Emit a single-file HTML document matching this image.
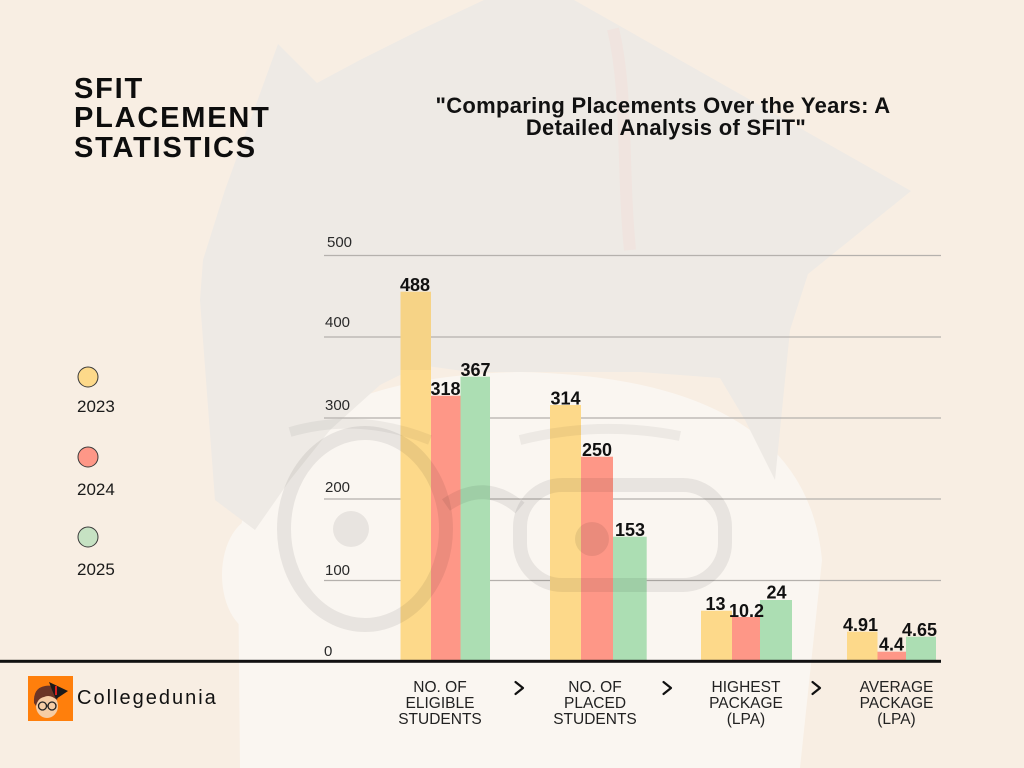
<!DOCTYPE html>
<html>
<head>
<meta charset="utf-8">
<style>
  html, body { margin: 0; padding: 0; background: #f8eee3; width: 1024px; height: 768px; overflow: hidden; }
  svg { display: block; }
  text { font-family: "Liberation Sans", Arial, sans-serif; }
</style>
</head>
<body>
<svg width="1024" height="768" viewBox="0 0 1024 768" xmlns="http://www.w3.org/2000/svg">
  <!-- background -->
  <rect x="0" y="0" width="1024" height="768" fill="#f8eee3"/>

  <!-- watermark: face (lighter) -->
  <path d="M240 768 L238 560 Q 240 378 520 372 Q 805 378 822 560 L 800 768 Z" fill="#faf6f1"/>
  <ellipse cx="258" cy="575" rx="36" ry="58" fill="#faf6f1"/>
  <!-- watermark: hair + hat -->
  <polygon fill="#eeeae5" points="200,300 203,260 225,190 278,44 317,83 360,60 420,30 484,0 574,0 911,191 808,274 790,330 775,480 745,420 720,378 640,372 560,372 470,372 420,365 380,385 330,430 290,480 255,530 215,500"/>
  <!-- faint tassel -->
  <path d="M613 29 C 628 90, 622 170, 630 250" stroke="#f2e0da" stroke-width="12" fill="none" opacity="0.6"/>

  <!-- gridlines -->
  <g stroke="#b5b1ad" stroke-width="1.2">
    <line x1="324" y1="255.5" x2="941" y2="255.5"/>
    <line x1="324" y1="337" x2="941" y2="337"/>
    <line x1="324" y1="418" x2="941" y2="418"/>
    <line x1="324" y1="499" x2="941" y2="499"/>
    <line x1="324" y1="580.5" x2="941" y2="580.5"/>
  </g>

  <!-- bars -->
  <g>
    <rect x="400.5" y="291.7" width="30.5" height="369" fill="#fdd98a"/>
    <rect x="431" y="395.7" width="29.5" height="265" fill="#fe9787"/>
    <rect x="460.5" y="376.7" width="29.5" height="284" fill="#acdeb3"/>

    <rect x="550" y="405" width="31" height="256" fill="#fdd98a"/>
    <rect x="581" y="456.7" width="32" height="204" fill="#fe9787"/>
    <rect x="613" y="536.7" width="33.7" height="124" fill="#acdeb3"/>

    <rect x="701" y="610.7" width="31" height="50" fill="#fdd98a"/>
    <rect x="732" y="617" width="28" height="44" fill="#fe9787"/>
    <rect x="760" y="600" width="32" height="61" fill="#acdeb3"/>

    <rect x="847" y="631.7" width="30.5" height="29" fill="#fdd98a"/>
    <rect x="877.5" y="651.7" width="28.5" height="9" fill="#fe9787"/>
    <rect x="906" y="636.7" width="30" height="24" fill="#acdeb3"/>
  </g>

  <!-- hair overlay on top of first bar -->
  <polygon fill="#8a7050" opacity="0.06" points="400.5,291.7 431,291.7 431,370 400.5,370"/>

  <!-- watermark: glasses overlay -->
  <g fill="none" stroke="#000" stroke-opacity="0.07" stroke-width="14">
    <ellipse cx="365" cy="529" rx="81" ry="96"/>
    <rect x="520" y="485" width="205" height="100" rx="42"/>
    <path d="M446 505 Q 485 478 520 508"/>
  </g>
  <g fill="none" stroke="#000" stroke-opacity="0.05" stroke-width="10">
    <path d="M290 432 Q 360 412 430 440"/>
    <path d="M520 440 Q 600 420 680 436"/>
  </g>
  <circle cx="351" cy="529" r="18" fill="#000" fill-opacity="0.07"/>
  <circle cx="592" cy="539" r="17" fill="#000" fill-opacity="0.08"/>

  <!-- axis line -->
  <rect x="0" y="659.8" width="941" height="3" fill="#111"/>

  <!-- tick labels -->
  <g font-size="15" fill="#2a2a2a">
    <text x="327" y="247">500</text>
    <text x="325" y="327">400</text>
    <text x="325" y="410">300</text>
    <text x="325" y="492">200</text>
    <text x="325" y="575">100</text>
    <text x="324" y="656">0</text>
  </g>

  <!-- value labels -->
  <g font-size="18" font-weight="bold" fill="#111" text-anchor="middle">
    <text x="415" y="291">488</text>
    <text x="445.5" y="395">318</text>
    <text x="475.5" y="376">367</text>
    <text x="565.5" y="404.5">314</text>
    <text x="597" y="456">250</text>
    <text x="630" y="536">153</text>
    <text x="715.5" y="610">13</text>
    <text x="746.5" y="617">10.2</text>
    <text x="776.5" y="598.5">24</text>
    <text x="860.5" y="631">4.91</text>
    <text x="891.5" y="650.5">4.4</text>
    <text x="919.5" y="636">4.65</text>
  </g>

  <!-- category labels -->
  <g font-size="15.5" fill="#222" text-anchor="middle">
    <text x="440" y="692">NO. OF</text>
    <text x="440" y="708">ELIGIBLE</text>
    <text x="440" y="724">STUDENTS</text>
    <text x="595" y="692">NO. OF</text>
    <text x="595" y="708">PLACED</text>
    <text x="595" y="724">STUDENTS</text>
    <text x="746" y="692">HIGHEST</text>
    <text x="746" y="708">PACKAGE</text>
    <text x="746" y="724">(LPA)</text>
    <text x="896.5" y="692">AVERAGE</text>
    <text x="896.5" y="708">PACKAGE</text>
    <text x="896.5" y="724">(LPA)</text>
  </g>

  <!-- chevrons -->
  <g fill="none" stroke="#111" stroke-width="2.2" stroke-linecap="round" stroke-linejoin="round">
    <polyline points="515.5,682 523,688 515.5,694"/>
    <polyline points="663.5,682 671,688 663.5,694"/>
    <polyline points="812.5,682 820,688 812.5,694"/>
  </g>

  <!-- title -->
  <g font-size="29" font-weight="bold" fill="#0d0d0d" letter-spacing="1.8">
    <text x="74" y="98">SFIT</text>
    <text x="74" y="127">PLACEMENT</text>
    <text x="74" y="157">STATISTICS</text>
  </g>

  <!-- subtitle -->
  <g font-size="22" font-weight="bold" fill="#111" text-anchor="middle" letter-spacing="0.3">
    <text x="663" y="113">"Comparing Placements Over the Years: A</text>
    <text x="666" y="135">Detailed Analysis of SFIT"</text>
  </g>

  <!-- legend -->
  <g stroke="#3a3a3a" stroke-width="1">
    <circle cx="88" cy="377" r="10" fill="#fdd98a"/>
    <circle cx="88" cy="457" r="10" fill="#fe9787"/>
    <circle cx="88" cy="537" r="10" fill="#c6e2c3"/>
  </g>
  <g font-size="17" fill="#1a1a1a">
    <text x="77" y="412">2023</text>
    <text x="77" y="495">2024</text>
    <text x="77" y="575">2025</text>
  </g>

  <!-- logo -->
  <rect x="28" y="676" width="45" height="45" fill="#ff7f0c"/>
  <ellipse cx="47" cy="706" rx="11" ry="12" fill="#f6cda6"/>
  <path d="M34 703 Q 33 688 45 686 Q 56 684 59 694 L 57 700 Q 50 694 44 697 Q 38 698 36 706 Z" fill="#6b3526"/>
  <polygon points="49,682 68,691 56,699 52,690" fill="#1a1a1a"/>
  <rect x="55" y="686" width="2" height="9" fill="#d81e1e"/>
  <g fill="none" stroke="#222" stroke-width="1.3">
    <circle cx="42.5" cy="706" r="4"/>
    <circle cx="52" cy="706" r="4"/>
    <line x1="46.5" y1="706" x2="48" y2="706"/>
  </g>
  <text x="77" y="704" font-size="20" fill="#111" letter-spacing="2">Collegedunia</text>
</svg>
</body>
</html>
